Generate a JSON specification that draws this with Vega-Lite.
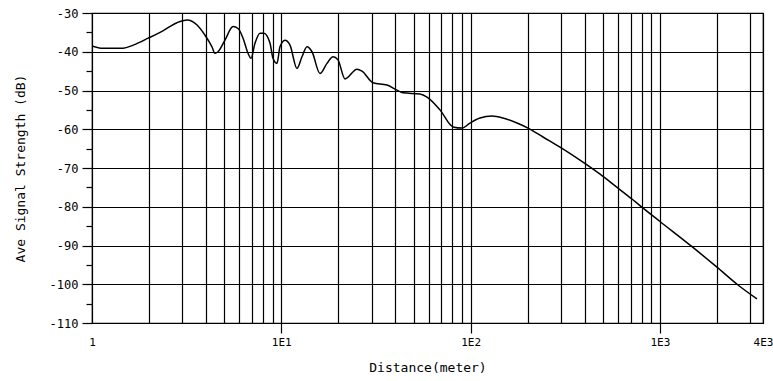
{
  "$schema": "https://vega.github.io/schema/vega-lite/v6.json",
  "autosize": "none",
  "width": 671,
  "height": 310,
  "padding": {"left": 92, "top": 13, "right": 10, "bottom": 58},
  "background": "white",
  "config": {
    "view": {"stroke": "#000", "strokeWidth": 1.2},
    "axis": {
      "domainColor": "#000",
      "tickColor": "#000",
      "gridColor": "#000",
      "gridWidth": 1.2,
      "tickWidth": 1.2,
      "labelColor": "#000",
      "titleColor": "#000",
      "labelFont": "DejaVu Sans Mono",
      "titleFont": "DejaVu Sans Mono",
      "labelFontSize": 11,
      "titleFontSize": 13,
      "titleFontWeight": "normal"
    }
  },
  "data": {
    "values": [
      {"distance": 1, "strength": -38.5},
      {"distance": 1.14, "strength": -39.1},
      {"distance": 1.46, "strength": -39.1},
      {"distance": 1.65, "strength": -38.3},
      {"distance": 1.98, "strength": -36.5},
      {"distance": 2.37, "strength": -34.6},
      {"distance": 2.81, "strength": -32.5},
      {"distance": 3.18, "strength": -31.8},
      {"distance": 3.59, "strength": -33.1},
      {"distance": 3.95, "strength": -35.7},
      {"distance": 4.3, "strength": -38.7},
      {"distance": 4.46, "strength": -40.4},
      {"distance": 4.63, "strength": -40.0},
      {"distance": 5.04, "strength": -37.0},
      {"distance": 5.56, "strength": -33.5},
      {"distance": 5.91, "strength": -34.0},
      {"distance": 6.28, "strength": -36.5},
      {"distance": 6.67, "strength": -40.4},
      {"distance": 6.92, "strength": -41.7},
      {"distance": 7.26, "strength": -37.8},
      {"distance": 7.72, "strength": -35.2},
      {"distance": 8.1, "strength": -35.2},
      {"distance": 8.72, "strength": -37.8},
      {"distance": 9.04, "strength": -41.7},
      {"distance": 9.49, "strength": -43.0},
      {"distance": 9.84, "strength": -38.7},
      {"distance": 10.46, "strength": -37.0},
      {"distance": 11.12, "strength": -38.3},
      {"distance": 12.1, "strength": -44.3},
      {"distance": 12.86, "strength": -41.3},
      {"distance": 13.67, "strength": -38.7},
      {"distance": 14.53, "strength": -40.0},
      {"distance": 16.01, "strength": -45.6},
      {"distance": 17.43, "strength": -43.0},
      {"distance": 18.76, "strength": -41.3},
      {"distance": 19.93, "strength": -42.1},
      {"distance": 21.7, "strength": -47.0},
      {"distance": 25.11, "strength": -44.5},
      {"distance": 26.69, "strength": -45.0},
      {"distance": 30.51, "strength": -48.0},
      {"distance": 36.17, "strength": -48.6},
      {"distance": 40.86, "strength": -49.9},
      {"distance": 43.95, "strength": -50.6},
      {"distance": 54.04, "strength": -50.9},
      {"distance": 58.86, "strength": -51.7},
      {"distance": 68.93, "strength": -55.0},
      {"distance": 80.73, "strength": -59.4},
      {"distance": 90.07, "strength": -59.7},
      {"distance": 99.27, "strength": -58.4},
      {"distance": 112.1, "strength": -57.1},
      {"distance": 129.7, "strength": -56.6},
      {"distance": 148.4, "strength": -57.1},
      {"distance": 175.8, "strength": -58.4},
      {"distance": 201.0, "strength": -59.7},
      {"distance": 241.3, "strength": -62.0},
      {"distance": 296.7, "strength": -64.6},
      {"distance": 412, "strength": -69.2},
      {"distance": 483, "strength": -71.6},
      {"distance": 594, "strength": -75.0},
      {"distance": 712, "strength": -78.0},
      {"distance": 785, "strength": -79.7},
      {"distance": 1001, "strength": -83.8},
      {"distance": 1478, "strength": -90.3},
      {"distance": 2002, "strength": -95.6},
      {"distance": 2585, "strength": -100.2},
      {"distance": 3258, "strength": -103.8}
    ]
  },
  "mark": {"type": "line", "color": "#000", "strokeWidth": 1.5, "interpolate": "monotone", "clip": true},
  "encoding": {
    "x": {
      "field": "distance",
      "type": "quantitative",
      "scale": {"type": "log", "domain": [1, 3505], "nice": false},
      "axis": {
        "title": "Distance(meter)",
        "values": [1, 2, 3, 4, 5, 6, 7, 8, 9, 10, 20, 30, 40, 50, 60, 70, 80, 90, 100, 200, 300, 400, 500, 600, 700, 800, 900, 1000, 2000, 3000, 3505],
        "grid": true,
        "labelExpr": "datum.value == 1 ? '1' : datum.value == 10 ? '1E1' : datum.value == 100 ? '1E2' : datum.value == 1000 ? '1E3' : datum.value > 3400 ? '4E3' : ''",
        "labelOverlap": false,
        "labelFlush": false,
        "labelBound": false,
        "tickSize": 10,
        "tickOpacity": {"condition": {"test": "datum.value == 10 || datum.value == 100 || datum.value == 1000", "value": 1}, "value": 0},
        "labelPadding": 3,
        "titlePadding": 14
      }
    },
    "y": {
      "field": "strength",
      "type": "quantitative",
      "scale": {"domain": [-110, -30], "nice": false},
      "axis": {
        "title": "Ave Signal Strength (dB)",
        "values": [-110, -105, -100, -95, -90, -85, -80, -75, -70, -65, -60, -55, -50, -45, -40, -35, -30],
        "grid": true,
        "gridOpacity": {"condition": {"test": "datum.value % 10 == 0", "value": 1}, "value": 0},
        "tickSize": {"condition": {"test": "datum.value % 10 == 0", "value": 10}, "value": 6},
        "labelExpr": "datum.value % 10 == 0 ? '' + datum.value : ''",
        "labelOverlap": false,
        "labelFontSize": 12,
        "labelPadding": 4,
        "titlePadding": 22
      }
    }
  }
}
